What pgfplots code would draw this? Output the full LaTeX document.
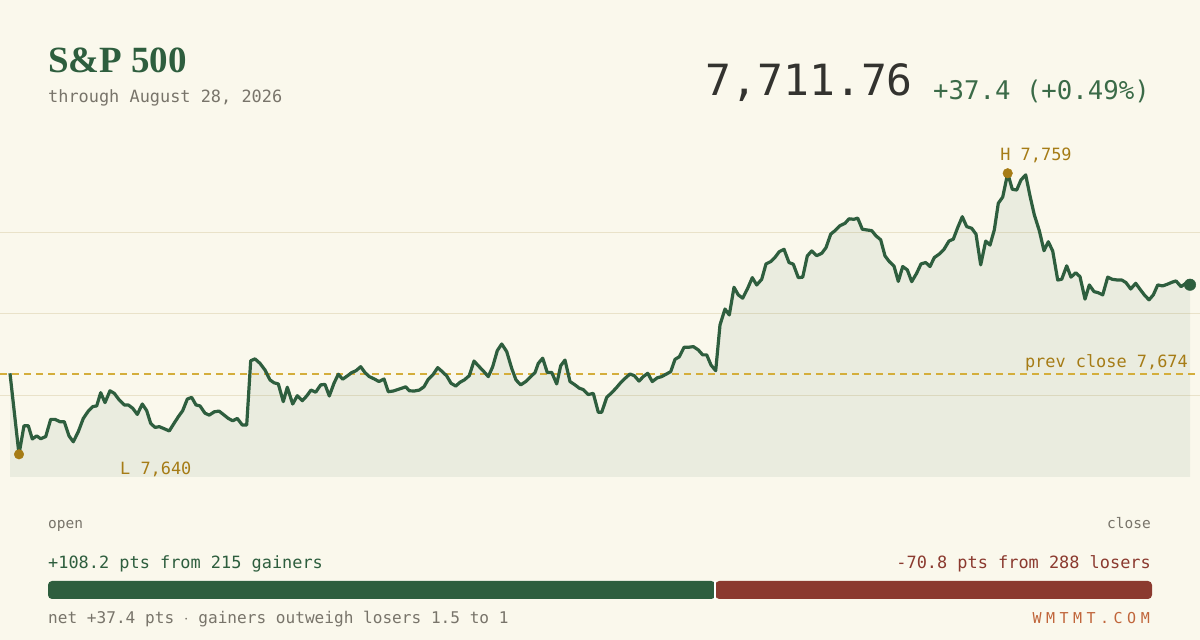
\documentclass[border=0pt]{standalone}
\usepackage{fontspec}
\usepackage{pgfplots}
\usepackage{pgfplotstable}
\pgfplotsset{compat=1.18}
\setmonofont{DejaVu Sans Mono}
\newfontfamily\titlefont{Liberation Serif}

\definecolor{bg}{HTML}{FAF8EC}
\definecolor{lineg}{HTML}{2E5E3E}
\definecolor{gridc}{HTML}{E9E2C9}
\definecolor{gold}{HTML}{A67C16}
\definecolor{dashc}{HTML}{D4AE3C}
\definecolor{redb}{HTML}{8B3A2F}
\definecolor{subg}{HTML}{78746A}
\definecolor{bignum}{HTML}{33332F}
\definecolor{chg}{HTML}{3B6B48}
\definecolor{brand}{HTML}{C0653A}

% intraday index level, x = position across the session
\pgfplotstableread{
x y
0 7674.3
9 7640.0
14 7652.1
18.3 7652.1
22.3 7646.5
26.7 7647.8
30.7 7646.6
35.7 7647.5
40.7 7654.8
45 7654.8
50 7653.8
54.3 7653.8
59 7647.8
63.3 7645.3
68.3 7649.6
73.3 7655.2
78.3 7658.3
82.7 7660.2
86.7 7660.5
90.7 7666.1
95 7661.9
100 7666.9
104.3 7665.8
109.3 7663.0
114.3 7660.9
118.3 7660.9
122.7 7659.5
127.3 7656.9
132.3 7661.3
136.7 7658.5
140.7 7653.1
145 7651.4
149.3 7651.7
153.3 7651.0
159.3 7649.9
164 7653.1
168.3 7655.9
172.7 7658.5
177.3 7663.4
181.7 7664.1
186 7660.9
190 7660.5
195 7657.4
199.3 7656.6
204.3 7658.0
209 7658.3
213.3 7656.9
218.3 7655.2
222.7 7654.2
227.3 7655.2
232.3 7652.4
236.7 7652.4
240.7 7679.6
245 7680.4
250 7678.5
255 7675.7
260 7671.5
264 7670.3
268.3 7669.8
273.3 7662.3
277.3 7668.4
282.7 7661.3
287.3 7664.8
292.3 7662.7
296.7 7664.7
301 7667.2
305.7 7666.3
310.7 7669.4
315 7669.6
319.3 7664.7
324 7670.1
328.3 7673.9
332.7 7671.8
337.3 7673.2
341.7 7674.6
346 7675.4
350.7 7677.1
355 7674.6
359.3 7672.9
364.3 7671.9
369 7670.8
374 7671.9
378.3 7666.5
383.3 7666.8
388.3 7667.5
393.3 7668.2
395.7 7668.6
399.3 7666.9
404.3 7666.8
409.3 7667.2
414 7668.6
418.3 7671.8
423.3 7673.9
427.7 7676.7
432.3 7675.0
436.7 7673.2
441 7670.1
445.7 7668.9
450 7670.5
454.3 7671.5
459.3 7673.3
464 7679.5
468.3 7677.5
473.3 7675.3
478.3 7672.9
482.7 7677.1
487.3 7683.9
491.7 7686.7
496.7 7683.5
501.7 7676.4
506 7671.5
510.7 7669.4
515.7 7670.8
520.7 7672.9
525 7674.6
528.3 7678.5
532.7 7680.7
537.3 7674.6
541.7 7674.7
546.7 7669.8
550.7 7677.5
555 7679.9
560 7670.8
565 7669.4
569.3 7668.0
573.3 7667.4
578.3 7665.3
583.3 7665.8
588.3 7657.8
591.7 7657.8
596.7 7664.1
601.7 7666.1
606 7668.0
611 7670.5
615.7 7672.4
620 7674.0
624.3 7673.3
629 7671.0
633.3 7672.9
637.7 7674.3
642.3 7670.8
647.3 7672.4
651.7 7672.9
656 7673.9
660.7 7675.0
665 7680.2
669.3 7681.3
674 7685.3
678.3 7685.3
683.3 7685.6
688.3 7684.2
692.7 7682.1
696.7 7682.1
701 7677.8
705.7 7675.4
710 7694.8
715 7701.5
719.3 7699.0
724 7710.7
728.3 7707.5
732.7 7706.1
737.7 7710.3
742.3 7714.8
746.7 7711.7
751.7 7714.1
756 7720.6
760.7 7721.6
765 7723.4
769.3 7725.8
774 7726.8
779 7721.2
783.3 7720.5
788.3 7714.8
792.7 7715.0
797.3 7724.0
801.7 7726.1
806.7 7724.1
811.7 7725.1
816 7727.5
820.7 7733.2
825 7734.7
830 7736.8
835 7737.8
839 7739.7
844 7739.5
847.7 7740.0
852.3 7735.3
856.7 7735.0
861.7 7734.7
866 7732.5
870.7 7730.8
875 7724.0
879.3 7721.6
884 7719.7
888.3 7713.2
892.7 7719.5
897.3 7718.1
901.7 7713.1
906.7 7716.7
911 7720.6
915.7 7721.2
920 7719.5
924.3 7723.3
929.3 7724.8
934 7726.8
939 7730.3
943.3 7731.1
947.7 7736.0
952.3 7740.6
956.7 7736.4
961.7 7735.7
966 7733.2
970.7 7720.2
975.7 7730.3
980 7728.6
984.3 7735.0
988.3 7746.3
992.7 7748.9
997.7 7759.0
1002.3 7752.2
1006.7 7751.9
1011 7756.2
1015.7 7758.3
1020 7749.4
1024.3 7741.4
1029.3 7734.7
1034 7726.2
1038.3 7730.0
1042.7 7726.1
1047.7 7713.8
1051.7 7714.1
1056.7 7719.8
1061 7715.0
1065.7 7716.9
1070 7715.2
1075 7705.7
1079.3 7711.7
1084 7708.9
1088.3 7708.4
1092.7 7707.5
1097.7 7715.0
1102.3 7714.1
1107.3 7713.8
1111.7 7713.8
1116 7712.7
1120.7 7710.0
1125.7 7712.4
1130 7709.9
1134.3 7707.5
1139 7705.4
1143.3 7707.5
1147.7 7711.7
1152.7 7711.3
1157.3 7712.0
1162.3 7712.9
1166 7713.4
1171 7711.0
1176 7712.4
1180 7711.8
}\spx

\begin{document}
\begin{tikzpicture}
\path[use as bounding box, fill=bg] (0pt,0pt) rectangle (1200pt,640pt);

% header
\node[anchor=base west, inner sep=0, text=lineg] at (48pt,567pt)
  {\titlefont\fontsize{37}{40}\selectfont\bfseries S\&P 500};
\node[anchor=base west, inner sep=0, text=subg] at (48pt,537pt)
  {\ttfamily\fontsize{16.9}{20}\selectfont through August 28, 2026};
\node[anchor=base east, inner sep=0, text=bignum] at (913pt,544pt)
  {\ttfamily\fontsize{43}{46}\selectfont 7,711.76};
\node[anchor=base east, inner sep=0, text=chg] at (1150pt,540pt)
  {\ttfamily\fontsize{25.7}{28}\selectfont +37.4 (+0.49\%)};

\begin{axis}[
  at={(0pt,163pt)}, anchor=south west,
  scale only axis, width=1200pt, height=326.2pt,
  xmin=-10, xmax=1190, ymin=7630.4, ymax=7768.5,
  axis line style={draw=none}, tick style={draw=none},
  xtick=\empty, ytick={7665,7699.5,7734}, yticklabels={},
  ymajorgrids, major grid style={color=gridc, line width=1.3pt},
  clip mode=individual,
]
\addplot[draw=none, fill=lineg, fill opacity=0.075] table {\spx} \closedcycle;
\addplot[dashc, line width=1.5pt, dash pattern=on 7pt off 5pt] coordinates {(-10,7674) (1190,7674)};
\addplot[lineg, line width=3.2pt, line join=round] table {\spx};
\addplot[only marks, mark=*, mark size=4.8pt, gold] coordinates {(9,7640) (997.7,7759)};
\addplot[only marks, mark=*, mark size=5.8pt, lineg] coordinates {(1180,7711.8)};
\end{axis}

% annotations
\node[anchor=base, inner sep=0, text=gold] at (1036pt,479pt)
  {\ttfamily\fontsize{16.9}{20}\selectfont H 7,759};
\node[anchor=base west, inner sep=0, text=gold] at (120pt,165pt)
  {\ttfamily\fontsize{16.9}{20}\selectfont L 7,640};
\node[anchor=base east, inner sep=0, text=gold] at (1188pt,272pt)
  {\ttfamily\fontsize{16.9}{20}\selectfont prev close 7,674};

% footer
\node[anchor=base west, inner sep=0, text=subg] at (48pt,111.5pt)
  {\ttfamily\fontsize{14.5}{18}\selectfont open};
\node[anchor=base east, inner sep=0, text=subg] at (1151pt,111.5pt)
  {\ttfamily\fontsize{14.5}{18}\selectfont close};
\node[anchor=base west, inner sep=0, text=lineg] at (48pt,71pt)
  {\ttfamily\fontsize{16.9}{20}\selectfont +108.2 pts from 215 gainers};
\node[anchor=base east, inner sep=0, text=redb] at (1151pt,71pt)
  {\ttfamily\fontsize{16.9}{20}\selectfont -70.8 pts from 288 losers};

\begin{axis}[
  at={(48pt,41pt)}, anchor=south west,
  scale only axis, width=1104pt, height=18pt,
  xmin=0, xmax=179, ymin=-0.5, ymax=0.5,
  hide axis, bar width=18pt,
  clip=false,
]
\addplot[xbar stacked, fill=lineg, draw=none, rounded corners=4pt] coordinates {(108.2,0)};
\addplot[xbar stacked, fill=redb, draw=none, rounded corners=4pt] coordinates {(70.8,0)};
\addplot[white, line width=2pt, stack plots=false] coordinates {(108.2,-0.5) (108.2,0.5)};
\end{axis}

\node[anchor=base west, inner sep=0, text=subg] at (48pt,16.5pt)
  {\ttfamily\fontsize{16.1}{18}\selectfont net +37.4 pts $\cdot$ gainers outweigh losers 1.5 to 1};
\node[anchor=base east, inner sep=0, text=brand] at (1150pt,16.5pt)
  {\ttfamily\fontsize{15}{18}\selectfont\addfontfeature{LetterSpace=30}WMTMT.COM\hspace{-4.5pt}};
\end{tikzpicture}
\end{document}
